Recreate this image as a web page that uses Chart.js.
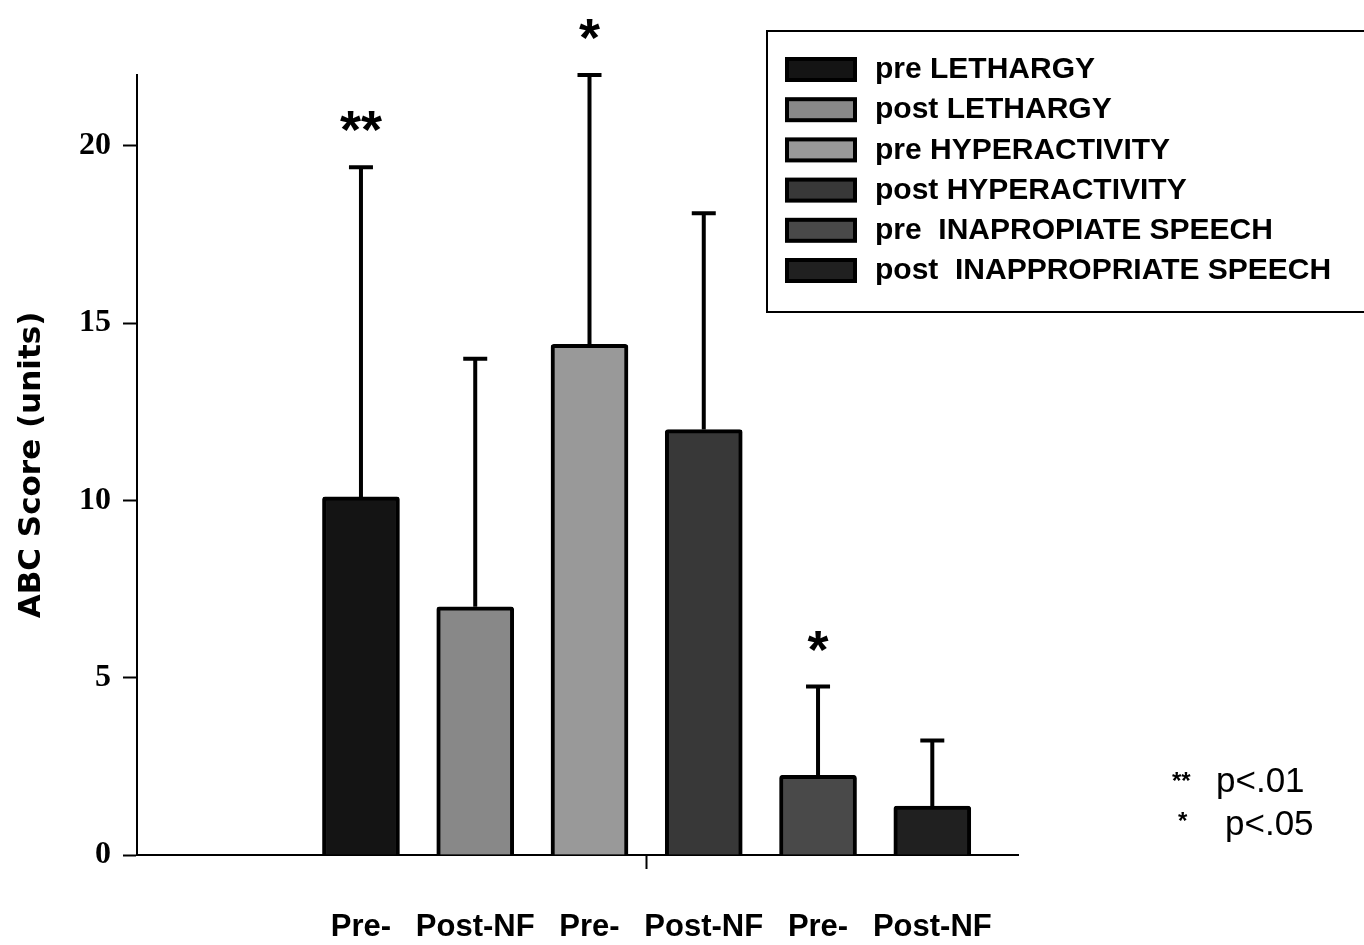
<!DOCTYPE html>
<html>
<head>
<meta charset="utf-8">
<script src="https://cdn.jsdelivr.net/npm/chart.js@4/dist/chart.umd.min.js"></script>
<style>
  html, body { margin: 0; padding: 0; background: #fff; }
  #wrap { width: 1364px; height: 945px; }
</style>
</head>
<body>
<div id="wrap"><canvas id="abcChart"></canvas></div>
<script>
// one bar per group, in order
var groups = ["pre LETHARGY", "post LETHARGY", "pre HYPERACTIVITY", "post HYPERACTIVITY",
              "pre  INAPROPIATE SPEECH", "post  INAPPROPRIATE SPEECH"];
var xLabels = ["Pre-", "Post-NF", "Pre-", "Post-NF", "Pre-", "Post-NF"];
var means = [10.1, 7.0, 14.4, 12.0, 2.25, 1.38];
var errors = [9.3, 7.0, 7.6, 6.1, 2.5, 1.85];
var stars = ["**", "", "*", "", "*", ""];
var colors = ["#141414", "#888888", "#999999", "#383838", "#494949", "#202020"];
var yTicks = [0, 5, 10, 15, 20];

var sansBold = "bold 30px 'Liberation Sans', Arial, sans-serif";

var datasets = groups.map(function(name, i) {
  return {
    label: name,
    data: [{x: i + 1, y: means[i]}],
    backgroundColor: colors[i],
    borderColor: "#000",
    borderWidth: 4,
    borderRadius: 3,
    borderSkipped: "bottom",
    barThickness: 77,
    grouped: false
  };
});

// upper error bars + significance stars
var errorBars = {
  id: "errorBars",
  afterDatasetsDraw: function(chart) {
    var ctx = chart.ctx;
    var ys = chart.scales.y;
    ctx.save();
    ctx.strokeStyle = "#000";
    ctx.lineWidth = 4;
    chart.data.datasets.forEach(function(ds, i) {
      var bar = chart.getDatasetMeta(i).data[0];
      var top = ys.getPixelForValue(means[i] + errors[i]);
      ctx.beginPath();
      ctx.moveTo(bar.x, bar.y);
      ctx.lineTo(bar.x, top);
      ctx.moveTo(bar.x - 12, top);
      ctx.lineTo(bar.x + 12, top);
      ctx.stroke();
      if (stars[i]) {
        ctx.fillStyle = "#000";
        ctx.font = "bold 54px 'Liberation Sans', Arial, sans-serif";
        ctx.textAlign = "center";
        ctx.textBaseline = "alphabetic";
        ctx.fillText(stars[i], bar.x, top - 19);
      }
    });
    ctx.restore();
  }
};

// boxed legend and p-value note
var boxLegend = {
  id: "boxLegend",
  afterDraw: function(chart) {
    var ctx = chart.ctx;
    ctx.save();
    ctx.strokeStyle = "#000";
    ctx.lineWidth = 2;
    ctx.strokeRect(767, 31, 610, 281);
    chart.data.datasets.forEach(function(ds, i) {
      var y = 69 + i * 40.2;
      ctx.fillStyle = "#000";
      ctx.fillRect(785, y - 12, 72, 25);
      ctx.fillStyle = ds.backgroundColor;
      ctx.fillRect(789, y - 8, 64, 17);
      ctx.fillStyle = "#000";
      ctx.font = sansBold;
      ctx.textAlign = "left";
      ctx.textBaseline = "middle";
      ctx.fillText(ds.label, 875, y + 1);
    });
    ctx.font = "bold 24px 'Liberation Sans', Arial, sans-serif";
    ctx.fillText("**", 1172, 782);
    ctx.fillText("*", 1178, 822);
    ctx.font = "35px 'Liberation Sans', Arial, sans-serif";
    ctx.fillText("p<.01", 1216, 782);
    ctx.fillText("p<.05", 1225, 825);
    ctx.restore();
  }
};

new Chart(document.getElementById("abcChart"), {
  type: "bar",
  data: { datasets: datasets },
  options: {
    responsive: true,
    maintainAspectRatio: false,
    animation: false,
    layout: { padding: { top: 75, right: 346, left: 0, bottom: 0 } },
    plugins: { legend: { display: false }, tooltip: { enabled: false } },
    scales: {
      x: {
        type: "linear",
        offset: false,
        min: -0.96,
        max: 6.75,
        afterBuildTicks: function(scale) {
          var t = xLabels.map(function(l, i) { return {value: i + 1}; });
          t.push({value: 3.5});
          scale.ticks = t;
        },
        afterFit: function(scale) { scale.height = 90; },
        border: { color: "#000", width: 2 },
        grid: {
          offset: false,
          drawOnChartArea: false,
          tickLength: 14,
          tickWidth: 2,
          tickColor: function(c) { return c.tick && c.tick.value === 3.5 ? "#000" : "rgba(0,0,0,0)"; }
        },
        ticks: {
          color: "#000",
          padding: 40,
          maxRotation: 0,
          autoSkip: false,
          font: { family: "'Liberation Sans', Arial, sans-serif", size: 31, weight: "bold" },
          callback: function(v) { return v === Math.round(v) ? xLabels[v - 1] : ""; }
        }
      },
      y: {
        min: 0,
        max: 22,
        afterBuildTicks: function(scale) {
          scale.ticks = yTicks.map(function(v) { return {value: v}; });
        },
        afterFit: function(scale) { scale.width = 137; },
        border: { color: "#000", width: 2 },
        grid: { drawOnChartArea: false, tickLength: 14, tickWidth: 2, tickColor: "#000" },
        ticks: {
          color: "#000",
          padding: 12,
          font: { family: "'Liberation Serif', 'Times New Roman', serif", size: 32, weight: "bold" }
        },
        title: {
          display: true,
          text: "ABC Score (units)",
          color: "#000",
          padding: { top: 13, bottom: 10 },
          font: { family: "'DejaVu Sans', sans-serif", size: 31, weight: "bold" }
        }
      }
    }
  },
  plugins: [errorBars, boxLegend]
});
</script>
</body>
</html>
